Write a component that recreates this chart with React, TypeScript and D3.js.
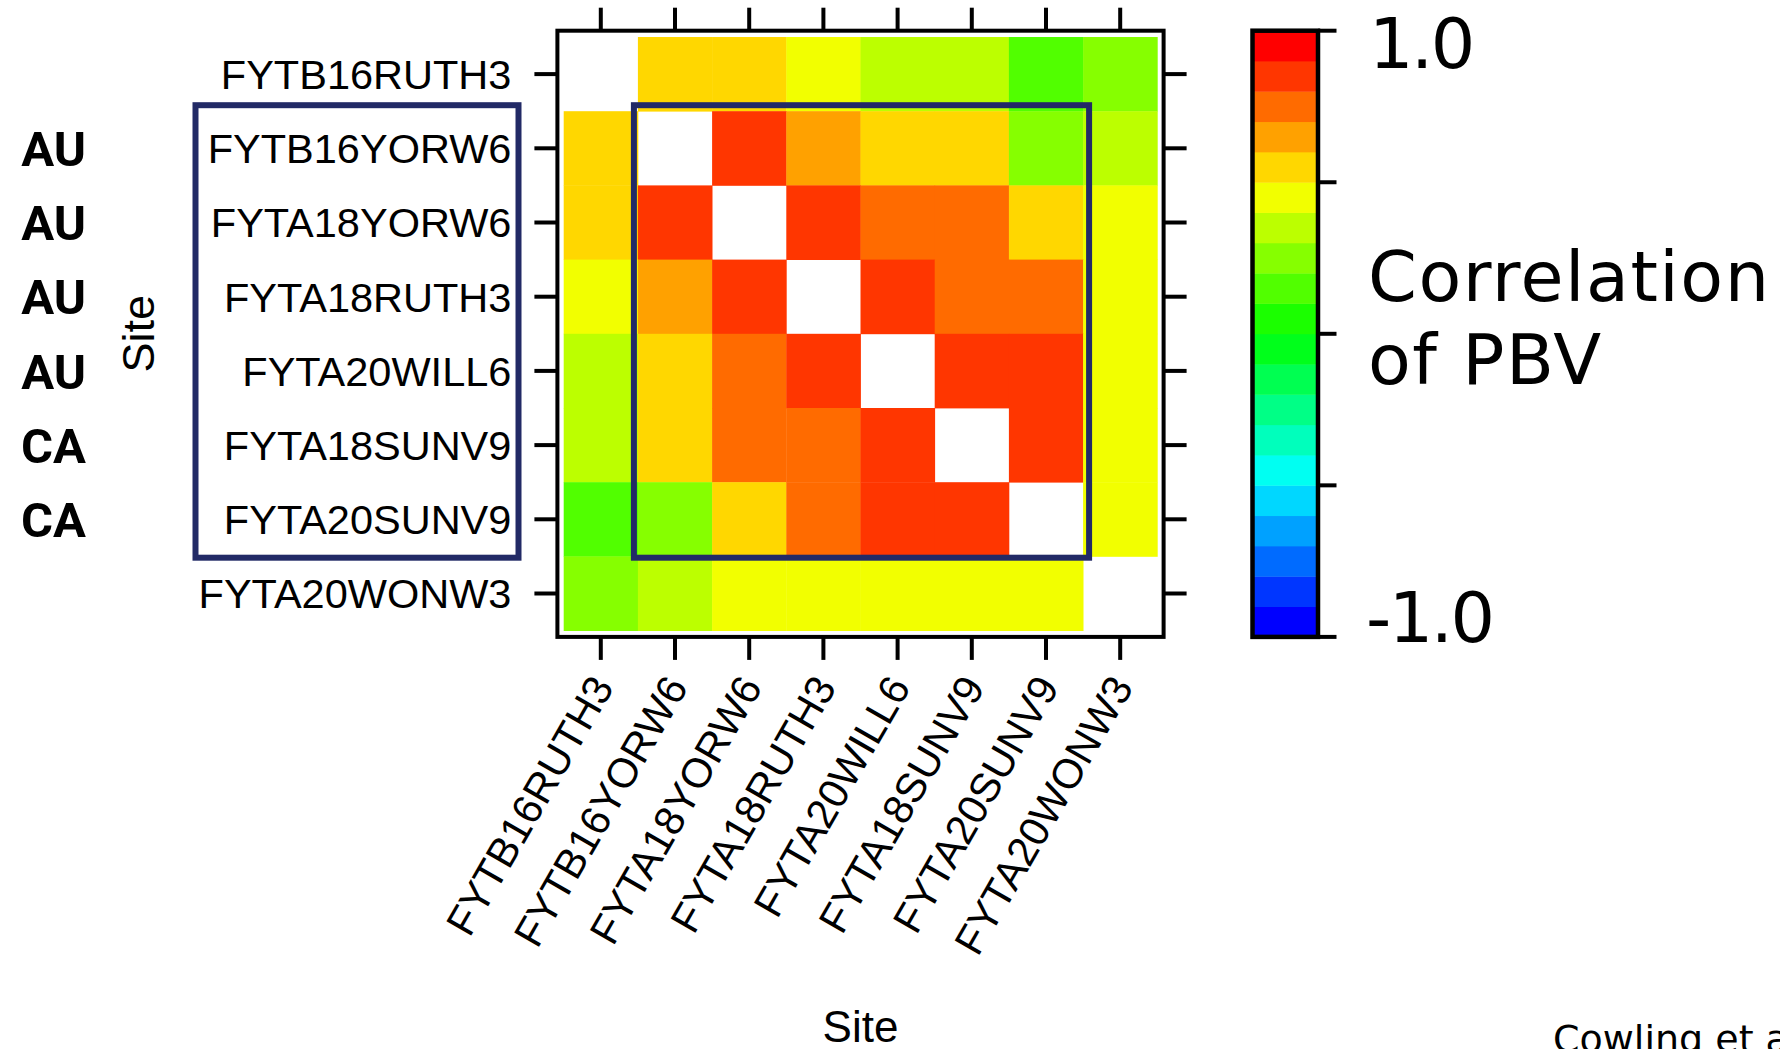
import React from "react";
import * as d3 from "d3";

// Sites in matrix order (rows top→bottom, columns left→right)
const sites = [
  "FYTB16RUTH3",
  "FYTB16YORW6",
  "FYTA18YORW6",
  "FYTA18RUTH3",
  "FYTA20WILL6",
  "FYTA18SUNV9",
  "FYTA20SUNV9",
  "FYTA20WONW3",
];

// Region tags for the boxed group of sites (sites[1]..sites[6])
const groupSites = sites.slice(1, 7);
const groupRegions = ["AU", "AU", "AU", "AU", "CA", "CA"];

// Pairwise correlation of PBV between sites (diagonal left empty)
const corrFYTB16RUTH3 = [null, 0.55, 0.55, 0.45, 0.35, 0.35, 0.15, 0.25];
const corrFYTB16YORW6 = [0.55, null, 0.85, 0.65, 0.55, 0.55, 0.25, 0.35];
const corrFYTA18YORW6 = [0.55, 0.85, null, 0.85, 0.75, 0.75, 0.55, 0.45];
const corrFYTA18RUTH3 = [0.45, 0.65, 0.85, null, 0.85, 0.75, 0.75, 0.45];
const corrFYTA20WILL6 = [0.35, 0.55, 0.75, 0.85, null, 0.85, 0.85, 0.45];
const corrFYTA18SUNV9 = [0.35, 0.55, 0.75, 0.75, 0.85, null, 0.85, 0.45];
const corrFYTA20SUNV9 = [0.15, 0.25, 0.55, 0.75, 0.85, 0.85, null, 0.45];
const corrFYTA20WONW3 = [0.25, 0.35, 0.45, 0.45, 0.45, 0.45, 0.45, null];

const corrRows: (number | null)[][] = [
  corrFYTB16RUTH3,
  corrFYTB16YORW6,
  corrFYTA18YORW6,
  corrFYTA18RUTH3,
  corrFYTA20WILL6,
  corrFYTA18SUNV9,
  corrFYTA20SUNV9,
  corrFYTA20WONW3,
];

// Colour key
const keyDomain = [-1, 1];
const keyBins = 20;
const keyTicks = [-1, -0.5, 0, 0.5, 1];
const keyLabels = [
  { value: 1, text: "1.0" },
  { value: -1, text: "-1.0" },
];
const keyTitle = ["Correlation", "of PBV"];
const axisTitle = "Site";
const credit = "Cowling et al.";

// rainbow palette, blue (low) → red (high)
const palette = d3
  .range(keyBins)
  .map((i) => d3.hsl((240 * (keyBins - 1 - i)) / (keyBins - 1), 1, 0.5).formatHex());

const color = d3.scaleQuantize<string>().domain(keyDomain).range(palette);

const LABEL_FONT = "'Liberation Sans', Arial, sans-serif";
const KEY_FONT = "'DejaVu Sans', sans-serif";
const BOX = "#222a66";

export default function App() {
  const cellsLeft = 563.7;
  const cellsTop = 37;
  const cell = 74.2;
  const n = sites.length;

  const x = d3
    .scaleBand<string>()
    .domain(sites)
    .range([cellsLeft, cellsLeft + cell * n]);
  const y = d3
    .scaleBand<string>()
    .domain(sites)
    .range([cellsTop, cellsTop + cell * n]);

  const pad = 6.3;
  const frame = {
    x0: cellsLeft - pad,
    y0: cellsTop - pad,
    x1: cellsLeft + cell * n + pad,
    y1: cellsTop + cell * n + pad,
  };
  const tick = 23;

  // colour key geometry
  const keyX0 = 1252.5;
  const keyX1 = 1318;
  const keyY = d3.scaleLinear().domain(keyDomain).range([frame.y1, frame.y0]);
  const binStep = (keyDomain[1] - keyDomain[0]) / keyBins;

  const cells: { r: string; c: string; v: number }[] = [];
  corrRows.forEach((row, i) =>
    row.forEach((v, j) => {
      if (v !== null) cells.push({ r: sites[i], c: sites[j], v });
    })
  );

  const first = groupSites[0];
  const last = groupSites[groupSites.length - 1];
  const boxTop = y(first)! - 6;
  const boxBottom = y(last)! + y.bandwidth() + 1.3;

  return (
    <svg
      width={1780}
      height={1049}
      style={{ position: "absolute", left: 0, top: 0, display: "block", background: "#fff" }}
    >
      <rect x={0} y={0} width={1780} height={1049} fill="#fff" />

      {/* heat map cells */}
      {cells.map((d) => (
        <rect
          key={d.r + d.c}
          x={x(d.c)}
          y={y(d.r)}
          width={x.bandwidth() + 0.4}
          height={y.bandwidth() + 0.4}
          fill={color(d.v)}
        />
      ))}

      {/* panel frame and ticks */}
      <rect
        x={frame.x0}
        y={frame.y0}
        width={frame.x1 - frame.x0}
        height={frame.y1 - frame.y0}
        fill="none"
        stroke="#000"
        strokeWidth={4}
      />
      {sites.map((s) => {
        const cx = x(s)! + x.bandwidth() / 2;
        const cy = y(s)! + y.bandwidth() / 2;
        return (
          <g key={"t" + s} stroke="#000" strokeWidth={4}>
            <line x1={cx} x2={cx} y1={frame.y0} y2={frame.y0 - tick} />
            <line x1={cx} x2={cx} y1={frame.y1} y2={frame.y1 + tick} />
            <line x1={frame.x0} x2={frame.x0 - tick} y1={cy} y2={cy} />
            <line x1={frame.x1} x2={frame.x1 + tick} y1={cy} y2={cy} />
          </g>
        );
      })}

      {/* row labels */}
      {sites.map((s) => (
        <text
          key={"yl" + s}
          x={frame.x0 - tick - 23}
          y={y(s)! + y.bandwidth() / 2}
          dy="0.36em"
          textAnchor="end"
          fontFamily={LABEL_FONT}
          fontSize={41.5}
          fill="#000"
        >
          {s}
        </text>
      ))}

      {/* column labels, rotated */}
      {sites.map((s) => {
        const cx = x(s)! + x.bandwidth() / 2 + 14;
        const cy = frame.y1 + 50;
        return (
          <text
            key={"xl" + s}
            transform={`translate(${cx},${cy}) rotate(-60)`}
            textAnchor="end"
            fontFamily={LABEL_FONT}
            fontSize={41.5}
            fill="#000"
          >
            {s}
          </text>
        );
      })}

      {/* axis titles */}
      <text
        x={(frame.x0 + frame.x1) / 2}
        y={1042}
        textAnchor="middle"
        fontFamily={LABEL_FONT}
        fontSize={44}
        fill="#000"
      >
        {axisTitle}
      </text>
      <text
        transform={`translate(154,${(frame.y0 + frame.y1) / 2}) rotate(-90)`}
        textAnchor="middle"
        fontFamily={LABEL_FONT}
        fontSize={45}
        fill="#000"
      >
        {axisTitle}
      </text>

      {/* region tags */}
      {groupSites.map((s, i) => (
        <text
          key={"rg" + s}
          x={86}
          y={y(s)! + y.bandwidth() / 2}
          dy="0.36em"
          textAnchor="end"
          fontFamily="Roboto, sans-serif"
          fontWeight={700}
          fontSize={49}
          fill="#000"
        >
          {groupRegions[i]}
        </text>
      ))}

      {/* group boxes */}
      <rect
        x={x(first)! - 4}
        y={boxTop}
        width={x(last)! + x.bandwidth() + 6 - (x(first)! - 4)}
        height={boxBottom - boxTop}
        fill="none"
        stroke={BOX}
        strokeWidth={6}
      />
      <rect
        x={195.5}
        y={boxTop}
        width={323}
        height={boxBottom - boxTop}
        fill="none"
        stroke={BOX}
        strokeWidth={6}
      />

      {/* colour key */}
      {palette.map((c, i) => {
        const lo = keyDomain[0] + i * binStep;
        const hi = lo + binStep;
        return (
          <rect
            key={"k" + i}
            x={keyX0}
            y={keyY(hi)}
            width={keyX1 - keyX0}
            height={keyY(lo) - keyY(hi) + 0.4}
            fill={c}
          />
        );
      })}
      <rect
        x={keyX0}
        y={keyY(keyDomain[1])}
        width={keyX1 - keyX0}
        height={keyY(keyDomain[0]) - keyY(keyDomain[1])}
        fill="none"
        stroke="#000"
        strokeWidth={4.5}
      />
      {keyTicks.map((t) => (
        <line
          key={"kt" + t}
          x1={keyX1}
          x2={keyX1 + 18.5}
          y1={keyY(t)}
          y2={keyY(t)}
          stroke="#000"
          strokeWidth={4}
        />
      ))}
      {keyLabels.map((l) => (
        <text
          key={"kl" + l.text}
          x={l.value > 0 ? 1369 : 1366}
          y={keyY(l.value) + (l.value > 0 ? 37 : 5)}
          fontFamily={KEY_FONT}
          fontSize={70}
          letterSpacing={-2.5}
          fill="#000"
        >
          {l.text}
        </text>
      ))}
      {keyTitle.map((t, i) => (
        <text
          key={"ktt" + i}
          x={1368}
          y={301 + i * 83}
          fontFamily={KEY_FONT}
          fontSize={70}
          letterSpacing={1.5}
          fill="#000"
        >
          {t}
        </text>
      ))}

      <text x={1553} y={1052} fontFamily={KEY_FONT} fontSize={38} fill="#000">
        {credit}
      </text>
    </svg>
  );
}
